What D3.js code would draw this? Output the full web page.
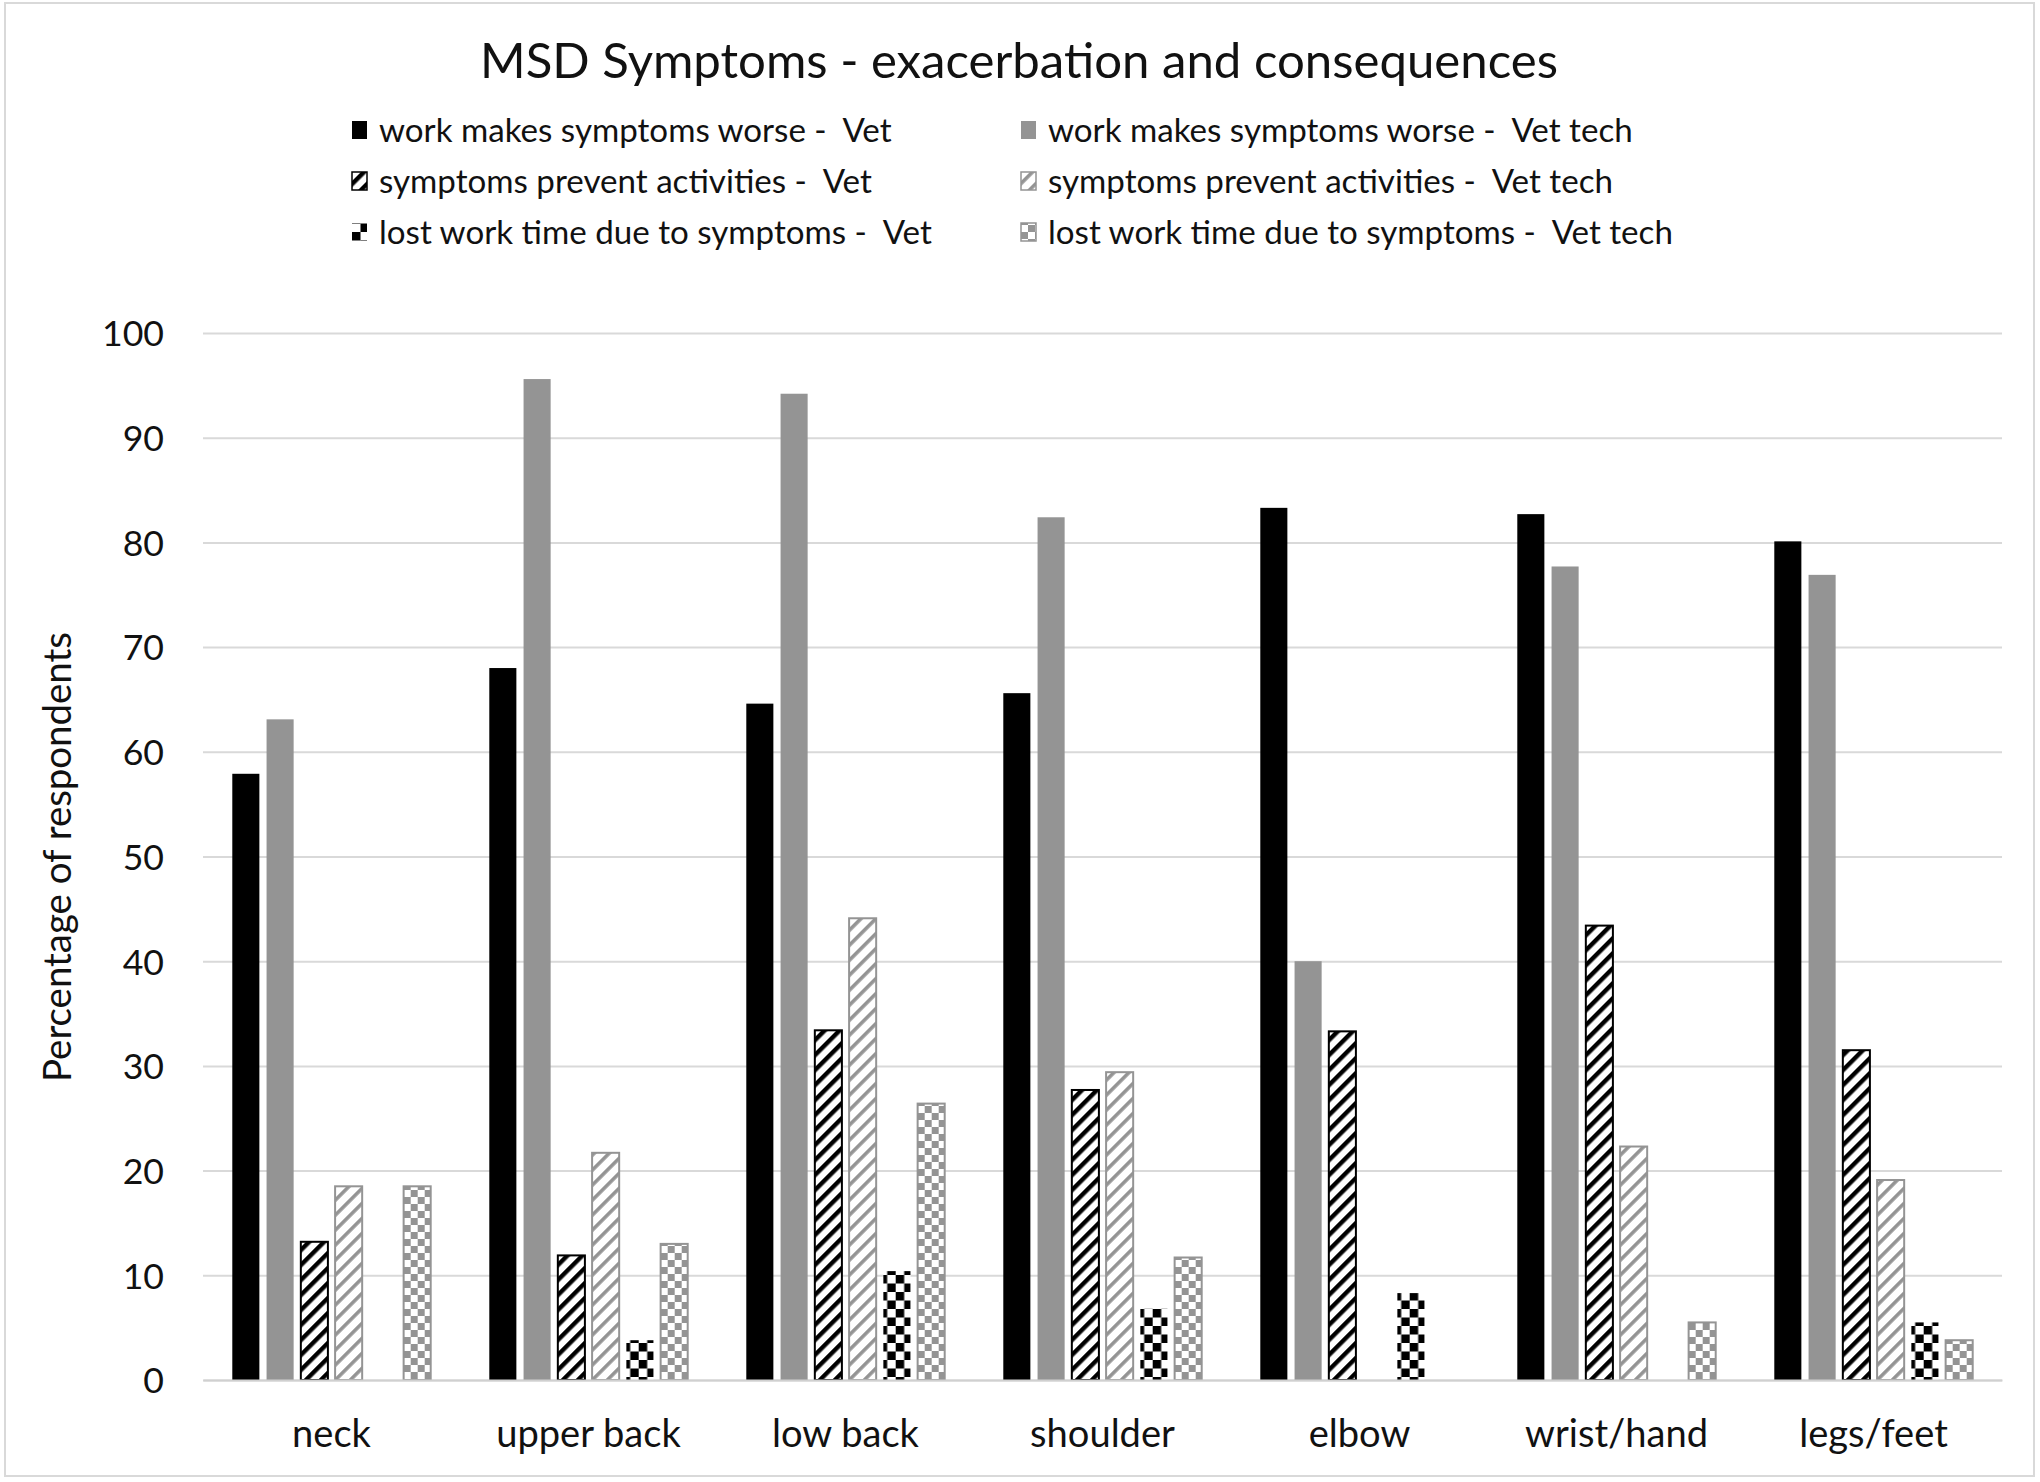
<!DOCTYPE html>
<html>
<head>
<meta charset="utf-8">
<script src="https://cdn.jsdelivr.net/npm/d3@7"></script>
<style>
  html, body { margin: 0; padding: 0; background: #fff; }
  svg { display: block; }
  text { white-space: pre; }
</style>
</head>
<body>
<svg id="chart" width="2040" height="1482"></svg>
<script>
// ---------------- DATA ----------------
const categories = ["neck", "upper back", "low back", "shoulder", "elbow", "wrist/hand", "legs/feet"];
const seriesKeys = ["worseVet", "worseTech", "preventVet", "preventTech", "lostVet", "lostTech"];
const seriesLabels = [
  "work makes symptoms worse -  Vet",
  "work makes symptoms worse -  Vet tech",
  "symptoms prevent activities -  Vet",
  "symptoms prevent activities -  Vet tech",
  "lost work time due to symptoms -  Vet",
  "lost work time due to symptoms -  Vet tech"
];
const worseVet    = [57.9, 68.0, 64.6, 65.6, 83.3, 82.7, 80.1];
const worseTech   = [63.1, 95.6, 94.2, 82.4, 40.0, 77.7, 76.9];
const preventVet  = [13.2, 11.9, 33.4, 27.7, 33.3, 43.4, 31.5];
const preventTech = [18.5, 21.7, 44.1, 29.4, 0,    22.3, 19.1];
const lostVet     = [0,    3.8,  10.4, 6.8,  8.3,  0,    5.5];
const lostTech    = [18.5, 13.0, 26.4, 11.7, 0,    5.5,  3.8];
const yTicks = [0, 10, 20, 30, 40, 50, 60, 70, 80, 90, 100];
const titleText = "MSD Symptoms - exacerbation and consequences";
const yTitleText = "Percentage of respondents";

const seriesValues = [worseVet, worseTech, preventVet, preventTech, lostVet, lostTech];

// ---------------- STYLE / LAYOUT ----------------
const FONT = "Lato, 'Noto Sans', sans-serif";
const BLACK = "#000000";
const GRAY = "#949494";
const GRID = "#d9d9d9";
const plot = { left: 203, right: 2002, top: 333, bottom: 1380 };

const svg = d3.select("#chart");

function fitSize(text, target) {
  const t = svg.append("text").attr("font-family", FONT).attr("font-size", 100).text(text);
  const w = t.node().getComputedTextLength();
  t.remove();
  return 100 * target / w;
}

// Patterns
const defs = svg.append("defs");
function hatch(id, color, thick, period) {
  const p = defs.append("pattern").attr("id", id)
    .attr("patternUnits", "userSpaceOnUse")
    .attr("width", period).attr("height", period)
    .attr("patternTransform", "rotate(45)");
  p.append("rect").attr("width", period).attr("height", period).attr("fill", "#fff");
  p.append("rect").attr("x", 0).attr("y", 0).attr("width", thick).attr("height", period).attr("fill", color);
}
function checker(id, color, cell) {
  const p = defs.append("pattern").attr("id", id)
    .attr("patternUnits", "userSpaceOnUse")
    .attr("width", cell * 2).attr("height", cell * 2);
  p.append("rect").attr("width", cell * 2).attr("height", cell * 2).attr("fill", "#fff");
  p.append("rect").attr("x", 0).attr("y", 0).attr("width", cell).attr("height", cell).attr("fill", color);
  p.append("rect").attr("x", cell).attr("y", cell).attr("width", cell).attr("height", cell).attr("fill", color);
}
hatch("hatchBlack", BLACK, 4.4, 10.6);
hatch("hatchGray", GRAY, 3.6, 10.6);
checker("checkBlack", BLACK, 8.5);
checker("checkGray", GRAY, 7);

const seriesStyle = {
  worseVet:    { fill: BLACK, stroke: "none", sw: 0 },
  worseTech:   { fill: GRAY, stroke: "none", sw: 0 },
  preventVet:  { fill: "url(#hatchBlack)", stroke: BLACK, sw: 2 },
  preventTech: { fill: "url(#hatchGray)", stroke: GRAY, sw: 2 },
  lostVet:     { fill: "url(#checkBlack)", stroke: "none", sw: 0 },
  lostTech:    { fill: "url(#checkGray)", stroke: GRAY, sw: 2 }
};

// Frame
svg.append("rect").attr("x", 5).attr("y", 3).attr("width", 2029).attr("height", 1473)
  .attr("fill", "#fff").attr("stroke", GRID).attr("stroke-width", 2);

// Scales
const x0 = d3.scaleBand().domain(categories).range([plot.left, plot.right])
  .paddingInner(0.2).paddingOuter(0.1);
const x1 = d3.scaleBand().domain(seriesKeys).range([0, x0.bandwidth()])
  .paddingInner(0.21).paddingOuter(0.105);
const y = d3.scaleLinear().domain([0, 100]).range([plot.bottom, plot.top]);

// Gridlines
const grid = svg.append("g").attr("transform", `translate(${plot.left},0)`)
  .call(d3.axisLeft(y).tickValues(yTicks).tickSize(-(plot.right - plot.left)).tickFormat(""));
grid.select(".domain").remove();
grid.selectAll(".tick line").attr("stroke", GRID).attr("stroke-width", 2);

// Y axis labels
const tickSize = fitSize("100", 62);
const yAxis = svg.append("g").attr("transform", `translate(${plot.left},0)`)
  .call(d3.axisLeft(y).tickValues(yTicks).tickSize(0).tickPadding(39).tickFormat(d3.format("d")));
yAxis.select(".domain").remove();
yAxis.selectAll("text").attr("font-family", FONT).attr("font-size", tickSize)
  .attr("fill", "#111").attr("dy", "0.36em");

// Bars
const rows = categories.map((c, i) => ({ cat: c, vals: seriesKeys.map((k, j) => ({ key: k, value: seriesValues[j][i] })) }));
const groups = svg.append("g").selectAll("g").data(rows).join("g")
  .attr("transform", d => `translate(${x0(d.cat)},0)`);
groups.selectAll("rect").data(d => d.vals.filter(v => v.value > 0)).join("rect")
  .attr("x", d => x1(d.key))
  .attr("y", d => y(d.value))
  .attr("width", x1.bandwidth())
  .attr("height", d => y(0) - y(d.value))
  .attr("fill", d => seriesStyle[d.key].fill)
  .attr("stroke", d => seriesStyle[d.key].stroke)
  .attr("stroke-width", d => seriesStyle[d.key].sw);

// X axis baseline + labels
const catSize = (fitSize("neck", 77) + fitSize("upper back", 189)) / 2;
const xAxis = svg.append("g").attr("transform", `translate(0,${plot.bottom})`)
  .call(d3.axisBottom(x0).tickSize(0));
xAxis.select(".domain").attr("stroke", "#d0d0d0").attr("stroke-width", 2);
xAxis.selectAll("text").attr("font-family", FONT).attr("font-size", catSize)
  .attr("fill", "#111").attr("dy", null).attr("y", 66.7);

// Y title
const yTitleSize = fitSize(yTitleText, 450);
svg.append("text").attr("transform", "translate(57,857) rotate(-90)")
  .attr("text-anchor", "middle").attr("dy", "0.36em")
  .attr("font-family", FONT).attr("font-size", yTitleSize).attr("fill", "#111")
  .text(yTitleText);

// Title
const titleSize = fitSize(titleText, 1078);
svg.append("text").attr("x", 1019).attr("y", 78).attr("text-anchor", "middle")
  .attr("font-family", FONT).attr("font-size", titleSize).attr("fill", "#111")
  .text(titleText);

// Legend
const legSize = fitSize(seriesLabels[0], 513);
const legRows = [130, 181, 232];
const legMarkX = [352, 1021];
const legTextX = [379, 1048];
const leg = svg.append("g").selectAll("g").data(seriesKeys).join("g")
  .attr("transform", (d, i) => `translate(${legMarkX[i % 2]},${legRows[Math.floor(i / 2)]})`);
leg.append("rect").attr("x", 0).attr("y", -9).attr("width", 15).attr("height", 18)
  .attr("fill", d => seriesStyle[d].fill)
  .attr("stroke", d => seriesStyle[d].stroke)
  .attr("stroke-width", d => seriesStyle[d].sw ? 1.5 : 0);
leg.append("text")
  .attr("x", (d, i) => legTextX[i % 2] - legMarkX[i % 2])
  .attr("y", 0).attr("dy", "0.36em")
  .attr("font-family", FONT).attr("font-size", legSize).attr("fill", "#111")
  .text((d, i) => seriesLabels[i]);
</script>
</body>
</html>
